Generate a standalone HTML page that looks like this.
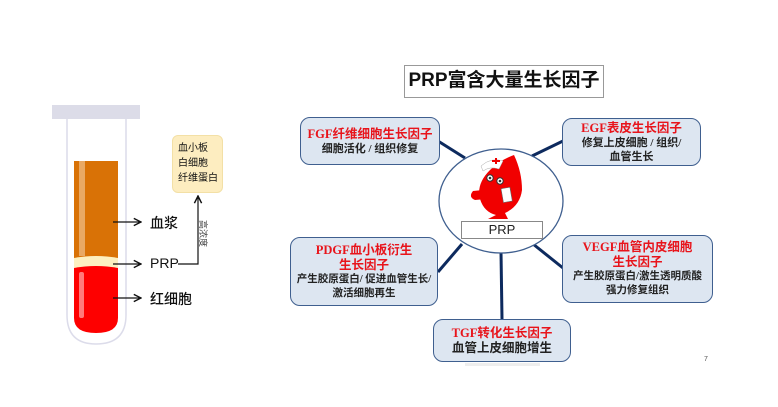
<!DOCTYPE html>
<html><head><meta charset="utf-8"><style>
body{margin:0;width:778px;height:407px;background:#fff;position:relative;overflow:hidden;font-family:"Liberation Sans","Noto Sans CJK SC",sans-serif;}
.a{position:absolute}
.box{position:absolute;box-sizing:border-box;background:#dde6f1;border:1.5px solid #3f5f8f;border-radius:10px;text-align:center;font-family:"Liberation Serif","Noto Sans CJK SC",serif;font-weight:bold;font-size:11px;line-height:14px;color:#222;display:flex;flex-direction:column;justify-content:center;white-space:nowrap}
.r{color:#e8141b;font-size:12.5px;line-height:15px}
.lbl{position:absolute;font-size:14px;color:#111;font-weight:500}
</style></head><body>
<svg class="a" style="left:0;top:0" width="778" height="407">
<defs><marker id="ar" markerWidth="8" markerHeight="8" refX="7" refY="4" orient="auto"><path d="M1,1 L7,4 L1,7" fill="none" stroke="#111" stroke-width="1.2"/></marker></defs>
<path d="M67,119 L67,315 Q67,344 96,344 Q126,344 126,315 L126,119" fill="#fff" stroke="#dcdcea" stroke-width="1.5"/>
<rect x="52" y="105" width="88" height="14" fill="#dcdce8"/>
<rect x="74" y="161" width="44" height="97" fill="#d97206"/>
<rect x="79" y="161" width="6" height="95" fill="#e9a964"/>
<path d="M74,258 Q96,254 118,258 L118,268 Q96,272 74,268Z" fill="#fdf0c0"/>
<path d="M74,268 Q96,264 118,268 L118,318 Q118,333 96,333 Q74,333 74,318Z" fill="#fe0000"/>
<rect x="79" y="272" width="5" height="46" rx="2" fill="#ff7b7b"/>
<line x1="113" y1="222" x2="141" y2="222" stroke="#111" stroke-width="1.2" marker-end="url(#ar)"/>
<line x1="113" y1="264" x2="141" y2="264" stroke="#111" stroke-width="1.2" marker-end="url(#ar)"/>
<line x1="113" y1="298" x2="141" y2="298" stroke="#111" stroke-width="1.2" marker-end="url(#ar)"/>
<polyline points="178,264 198,264 198,196" fill="none" stroke="#111" stroke-width="1.2" marker-end="url(#ar)"/>
<g stroke="#0d2a5e" stroke-width="3">
<line x1="438" y1="141" x2="465" y2="158"/>
<line x1="563" y1="141" x2="532" y2="156"/>
<line x1="438" y1="272" x2="462" y2="244"/>
<line x1="563" y1="268" x2="533" y2="244"/>
<line x1="501" y1="252" x2="502" y2="319"/>
</g>
<ellipse cx="501" cy="201" rx="62" ry="52" fill="#fff" stroke="#3f5f8f" stroke-width="1.3"/>
<path d="M514,155 Q500,160 490,170 Q476,184 480,199 Q484,212 496,215 L488,219 L508,219 L505,213 Q520,206 522,190 Q522,172 514,155Z" fill="#f10000"/>
<path d="M483,190 L473,191 Q468,197 475,200 L486,199Z" fill="#f10000"/>
<path d="M481,166 Q491,157 503,161 L499,169 Q490,166 483,171Z" fill="#fff" stroke="#aaa" stroke-width=".5"/>
<path d="M492,160 h3 v-2 h2 v2 h3 v2 h-3 v2 h-2 v-2 h-3Z" fill="#e00"/>
<circle cx="490" cy="178" r="3.2" fill="#fff" stroke="#333"/><circle cx="490" cy="178" r="1.3" fill="#333"/>
<circle cx="500" cy="181" r="3.2" fill="#fff" stroke="#333"/><circle cx="500" cy="181" r="1.3" fill="#333"/>
<rect x="502" y="188" width="9" height="14" fill="#fff" stroke="#666" stroke-width=".6" transform="rotate(-10 506 194)"/>
<rect x="465" y="363" width="75" height="3" fill="#eeeeee"/>
</svg>
<div class="lbl" style="left:150px;top:213px">血浆</div>
<div class="lbl" style="left:150px;top:255px">PRP</div>
<div class="lbl" style="left:150px;top:289px">红细胞</div>
<div class="a" style="left:172px;top:135px;width:51px;height:58px;box-sizing:border-box;background:#fdedc0;border:1px solid #f3e0a6;border-radius:6px;font-size:10px;line-height:15px;padding:5px 0 0 5px;color:#111;white-space:nowrap">血小板<br>白细胞<br>纤维蛋白</div>
<div class="a" style="left:210px;top:220px;font-size:9px;color:#444;transform:rotate(90deg);transform-origin:left top;white-space:nowrap">高浓度</div>
<div class="a" style="left:404px;top:65px;width:200px;height:33px;box-sizing:border-box;border:1.3px solid #999;font-size:19px;font-weight:bold;text-align:center;line-height:30px;color:#111;white-space:nowrap">PRP富含大量生长因子</div>
<div class="box" style="left:300px;top:117px;width:140px;height:48px"><span class="r">FGF纤维细胞生长因子</span>细胞活化 / 组织修复</div>
<div class="box" style="left:562px;top:118px;width:139px;height:48px"><span class="r">EGF表皮生长因子</span>修复上皮细胞 / 组织/<br>血管生长</div>
<div class="box" style="left:290px;top:237px;width:148px;height:69px;font-size:10.5px"><span class="r">PDGF血小板衍生<br>生长因子</span>产生胶原蛋白/ 促进血管生长/<br>激活细胞再生</div>
<div class="box" style="left:562px;top:235px;width:151px;height:68px;font-size:10.5px"><span class="r">VEGF血管内皮细胞<br>生长因子</span>产生胶原蛋白/激生透明质酸<br>强力修复组织</div>
<div class="box" style="left:433px;top:319px;width:138px;height:43px"><span class="r">TGF转化生长因子</span><span style="font-size:12.5px">血管上皮细胞增生</span></div>
<div class="a" style="left:461px;top:221px;width:82px;height:18px;box-sizing:border-box;background:#fff;border:1px solid #888;text-align:center;font-size:13px;line-height:16px;color:#222">PRP</div>
<div class="a" style="left:704px;top:356px;font-size:7px;color:#555">7</div>
</body></html>
